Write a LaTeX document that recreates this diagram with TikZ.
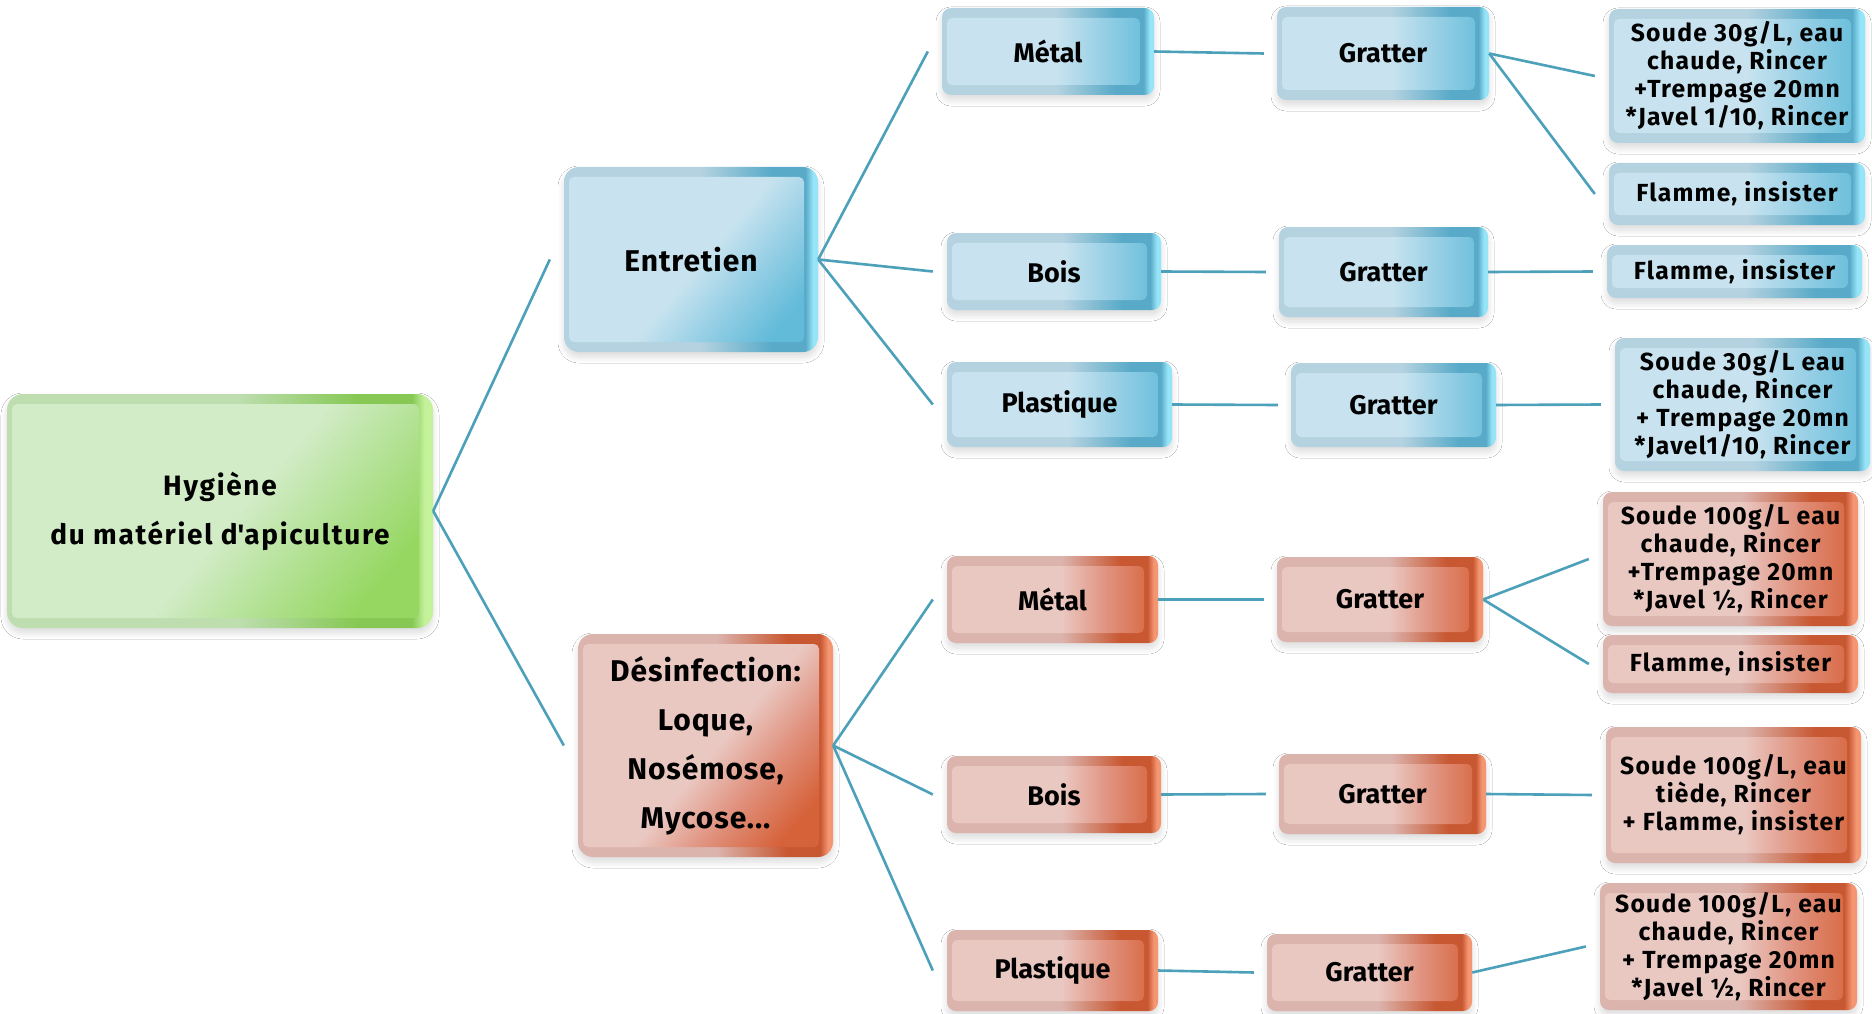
\documentclass[tikz,border=0pt]{standalone}
\usepackage{fontspec}
\setmainfont{Fira Sans}
\usetikzlibrary{shadows.blur,calc}

\definecolor{bL}{RGB}{200,227,239}
\definecolor{bM}{RGB}{150,207,229}
\definecolor{bD}{RGB}{98,187,217}
\definecolor{bEL}{RGB}{180,210,224}
\definecolor{bED}{RGB}{88,170,200}
\definecolor{bHi}{RGB}{150,228,248}
\definecolor{rL}{RGB}{234,200,194}
\definecolor{rM}{RGB}{224,145,125}
\definecolor{rD}{RGB}{214,98,58}
\definecolor{rEL}{RGB}{220,180,174}
\definecolor{rED}{RGB}{200,88,50}
\definecolor{rHi}{RGB}{245,150,115}
\definecolor{gL}{RGB}{210,236,200}
\definecolor{gM}{RGB}{180,226,150}
\definecolor{gD}{RGB}{150,215,98}
\definecolor{gEL}{RGB}{190,222,176}
\definecolor{gED}{RGB}{135,200,85}
\definecolor{gHi}{RGB}{195,242,155}
\definecolor{lineC}{RGB}{76,160,186}

\pgfdeclarehorizontalshading{bMain}{100bp}{color(0bp)=(bL); color(52bp)=(bL); color(63bp)=(bM); color(75bp)=(bD); color(100bp)=(bD)}
\pgfdeclarehorizontalshading{bEdge}{100bp}{color(0bp)=(bEL); color(52bp)=(bEL); color(66bp)=(bED); color(72.5bp)=(bED); color(74bp)=(bHi); color(100bp)=(bHi)}
\pgfdeclarehorizontalshading{rMain}{100bp}{color(0bp)=(rL); color(52bp)=(rL); color(63bp)=(rM); color(75bp)=(rD); color(100bp)=(rD)}
\pgfdeclarehorizontalshading{rEdge}{100bp}{color(0bp)=(rEL); color(52bp)=(rEL); color(66bp)=(rED); color(72.5bp)=(rED); color(74bp)=(rHi); color(100bp)=(rHi)}
\pgfdeclarehorizontalshading{gMain}{100bp}{color(0bp)=(gL); color(52bp)=(gL); color(63bp)=(gM); color(75bp)=(gD); color(100bp)=(gD)}
\pgfdeclarehorizontalshading{gEdge}{100bp}{color(0bp)=(gEL); color(52bp)=(gEL); color(66bp)=(gED); color(72.5bp)=(gED); color(74bp)=(gHi); color(100bp)=(gHi)}

\tikzset{
  base/.style={inner sep=0pt, align=center, text=black,
    blur shadow={shadow xshift=0pt, shadow yshift=-5pt, shadow opacity=14, shadow blur radius=6pt, shadow blur steps=8}},
  bevel/.style n args={2}{path picture={
    \shade[shading=#1, shading angle=#2, rounded corners=5pt]
      ([xshift=5pt,yshift=-10pt]path picture bounding box.north west) rectangle
      ([xshift=-14pt,yshift=10pt]path picture bounding box.south east);}},
  midfont/.style={font={\fontsize{27}{31}\selectfont\bfseries}},
  rightfont/.style={font={\fontsize{24.7}{28}\selectfont\bfseries\addfontfeature{LetterSpace=5}}},
  bigfont/.style={font={\fontsize{30}{49}\selectfont\bfseries\addfontfeature{LetterSpace=3}}},
  rootfont/.style={font={\fontsize{28}{49}\selectfont\bfseries\addfontfeature{LetterSpace=6}}},
  bluebox/.style={base, rounded corners=9pt, shade, shading=bEdge, bevel={bMain}{0}},
  redbox/.style={base, rounded corners=9pt, shade, shading=rEdge, bevel={rMain}{0}},
  bigblue/.style={base, rounded corners=15pt, shade, shading=bEdge, bevel={bMain}{-40}, bigfont},
  bigred/.style={base, rounded corners=15pt, shade, shading=rEdge, bevel={rMain}{-40}, bigfont},
  biggreen/.style={base, rounded corners=16pt, shade, shading=gEdge, bevel={gMain}{-40}, rootfont},
  conn/.style={draw=lineC, line width=2.6pt},
}

\begin{document}
\begin{tikzpicture}[x=1pt,y=-1pt]
\useasboundingbox[fill=white] (0,0) rectangle (1872,1014);

% root and level 1
\node[biggreen, minimum width=426pt, minimum height=234pt] (root) at (220,511) {Hygiène\\du matériel d\textquotesingle apiculture};
\node[bigblue, minimum width=254pt, minimum height=185pt] (ent) at (691,259.5) {Entretien};
\node[bigred, minimum width=255pt, minimum height=223pt] (des) at (705.5,745.5) {Désinfection:\\Loque,\\Nosémose,\\Mycose...};

% blue branch
\node[bluebox, midfont, minimum width=212pt, minimum height=87pt] (m1) at (1048,51.5) {Métal};
\node[bluebox, midfont, minimum width=212pt, minimum height=93pt] (g1) at (1383,53.5) {Gratter};
\node[bluebox, rightfont, minimum width=256pt, minimum height=134pt] (s1) at (1737,76) {Soude 30g/L, eau\\chaude, Rincer\\+Trempage 20mn\\*Javel 1/10, Rincer};
\node[bluebox, rightfont, minimum width=256pt, minimum height=62pt] (f1) at (1737,194) {Flamme, insister};

\node[bluebox, midfont, minimum width=214pt, minimum height=77pt] (b1) at (1054,271.5) {Bois};
\node[bluebox, midfont, minimum width=209pt, minimum height=90pt] (g2) at (1383.5,272) {Gratter};
\node[bluebox, rightfont, minimum width=255pt, minimum height=53pt] (f2) at (1734.5,271.5) {Flamme, insister};

\node[bluebox, midfont, minimum width=225pt, minimum height=85pt] (p1) at (1059.5,404.5) {Plastique};
\node[bluebox, midfont, minimum width=205pt, minimum height=84pt] (g3) at (1393.5,405) {Gratter};
\node[bluebox, rightfont, minimum width=255pt, minimum height=133pt] (s2) at (1742.5,404.5) {Soude 30g/L eau\\chaude, Rincer\\+ Trempage 20mn\\*Javel1/10, Rincer};

% red branch
\node[redbox, midfont, minimum width=211pt, minimum height=87pt] (m2) at (1052.5,599.5) {Métal};
\node[redbox, midfont, minimum width=206pt, minimum height=85pt] (g4) at (1380,599.5) {Gratter};
\node[redbox, rightfont, minimum width=255pt, minimum height=134pt] (s3) at (1730.5,559) {Soude 100g/L eau\\chaude, Rincer\\+Trempage 20mn\\*Javel ½, Rincer};
\node[redbox, rightfont, minimum width=255pt, minimum height=58pt] (f3) at (1730.5,664) {Flamme, insister};

\node[redbox, midfont, minimum width=214pt, minimum height=77pt] (b2) at (1054,794.5) {Bois};
\node[redbox, midfont, minimum width=207pt, minimum height=80pt] (g5) at (1382.5,794) {Gratter};
\node[redbox, rightfont, minimum width=255pt, minimum height=136pt] (s4) at (1733.5,795) {Soude 100g/L, eau\\tiède, Rincer\\+ Flamme, insister};

\node[redbox, midfont, minimum width=211pt, minimum height=81pt] (p2) at (1052.5,970.5) {Plastique};
\node[redbox, midfont, minimum width=205pt, minimum height=77pt] (g6) at (1369.5,972.5) {Gratter};
\node[redbox, rightfont, minimum width=257pt, minimum height=127pt] (s5) at (1728.5,946.5) {Soude 100g/L, eau\\chaude, Rincer\\+ Trempage 20mn\\*Javel ½, Rincer};

% connectors
\draw[conn] (root.east) -- ([xshift=-14pt]ent.west);
\draw[conn] (root.east) -- ([xshift=-14pt]des.west);

\draw[conn] (ent.east) -- ([xshift=-14pt]m1.west);
\draw[conn] (ent.east) -- ([xshift=-14pt]b1.west);
\draw[conn] (ent.east) -- ([xshift=-14pt]p1.west);
\draw[conn] (m1.east) -- ([xshift=-13pt]g1.west);
\draw[conn] (b1.east) -- ([xshift=-13pt]g2.west);
\draw[conn] (p1.east) -- ([xshift=-13pt]g3.west);
\draw[conn] (g1.east) -- ([xshift=-14pt]s1.west);
\draw[conn] (g1.east) -- ([xshift=-14pt]f1.west);
\draw[conn] (g2.east) -- ([xshift=-14pt]f2.west);
\draw[conn] (g3.east) -- ([xshift=-14pt]s2.west);

\draw[conn] (des.east) -- ([xshift=-14pt]m2.west);
\draw[conn] (des.east) -- ([xshift=-14pt]b2.west);
\draw[conn] (des.east) -- ([xshift=-14pt]p2.west);
\draw[conn] (m2.east) -- ([xshift=-13pt]g4.west);
\draw[conn] (b2.east) -- ([xshift=-13pt]g5.west);
\draw[conn] (p2.east) -- ([xshift=-13pt]g6.west);
\draw[conn] (g4.east) -- ([xshift=-14pt]s3.west);
\draw[conn] (g4.east) -- ([xshift=-14pt]f3.west);
\draw[conn] (g5.east) -- ([xshift=-14pt]s4.west);
\draw[conn] (g6.east) -- ([xshift=-14pt]s5.west);
\end{tikzpicture}
\end{document}
